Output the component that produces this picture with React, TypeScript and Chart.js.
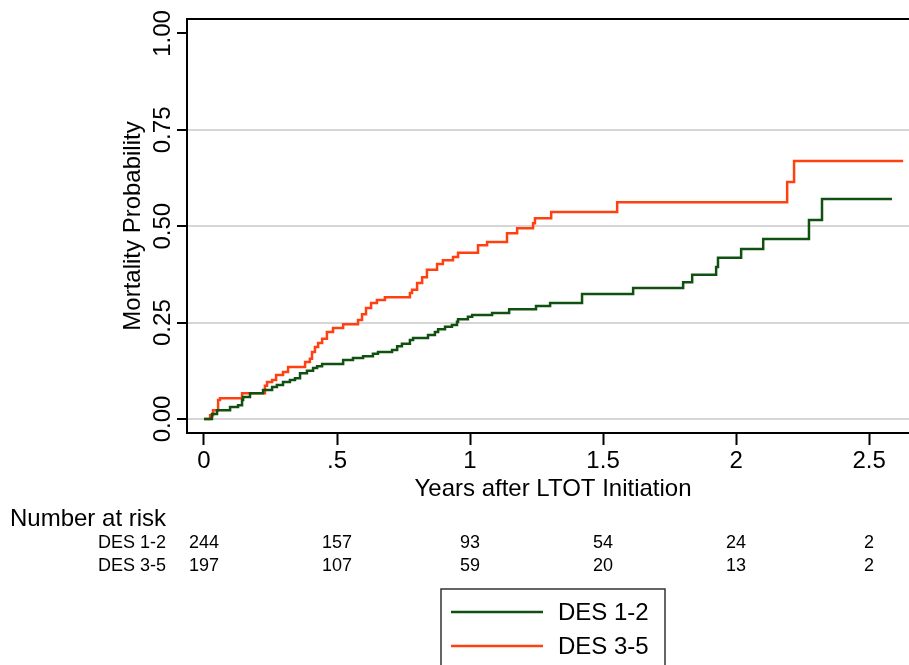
import { useEffect, useRef } from "react";
import { Chart, registerables } from "chart.js";
Chart.register(...registerables);

// Step curves: event time (years) and cumulative mortality after the event
const des12Times = [0, 0.030, 0.049, 0.098, 0.128, 0.143, 0.147, 0.173, 0.222, 0.256, 0.274, 0.297, 0.323, 0.342, 0.361, 0.387, 0.410, 0.425, 0.444, 0.523, 0.560, 0.598, 0.635, 0.654, 0.707, 0.726, 0.744, 0.774, 0.786, 0.842, 0.868, 0.880, 0.906, 0.932, 0.951, 0.955, 0.992, 1.008, 1.083, 1.147, 1.248, 1.301, 1.421, 1.613, 1.801, 1.835, 1.925, 1.932, 2.019, 2.102, 2.274, 2.323, 2.586];
const des12Values = [0, 0.013, 0.023, 0.031, 0.036, 0.049, 0.057, 0.067, 0.075, 0.083, 0.088, 0.096, 0.101, 0.106, 0.119, 0.125, 0.132, 0.137, 0.143, 0.153, 0.158, 0.163, 0.169, 0.174, 0.179, 0.189, 0.195, 0.205, 0.210, 0.218, 0.226, 0.233, 0.239, 0.244, 0.252, 0.259, 0.265, 0.270, 0.275, 0.285, 0.293, 0.301, 0.324, 0.340, 0.355, 0.374, 0.394, 0.418, 0.441, 0.467, 0.516, 0.571, 0.571];

const des35Times = [0, 0.023, 0.034, 0.053, 0.060, 0.143, 0.229, 0.237, 0.256, 0.271, 0.297, 0.316, 0.380, 0.398, 0.406, 0.417, 0.429, 0.444, 0.462, 0.485, 0.523, 0.579, 0.594, 0.609, 0.628, 0.650, 0.680, 0.774, 0.782, 0.801, 0.820, 0.838, 0.876, 0.898, 0.936, 0.955, 1.030, 1.064, 1.139, 1.177, 1.237, 1.244, 1.305, 1.553, 2.192, 2.218, 2.628];
const des35Values = [0, 0.010, 0.023, 0.049, 0.054, 0.067, 0.086, 0.096, 0.101, 0.114, 0.122, 0.135, 0.148, 0.156, 0.174, 0.187, 0.197, 0.208, 0.226, 0.236, 0.246, 0.257, 0.272, 0.288, 0.301, 0.309, 0.316, 0.327, 0.335, 0.353, 0.368, 0.387, 0.402, 0.412, 0.420, 0.431, 0.451, 0.459, 0.482, 0.495, 0.508, 0.521, 0.537, 0.562, 0.615, 0.669, 0.669];

const seriesNames = ["DES 1-2", "DES 3-5"];
const seriesColors = ["#105010", "#ff4010"];

const xTickValues = [0, 0.5, 1, 1.5, 2, 2.5];
const xTickLabels = ["0", ".5", "1", "1.5", "2", "2.5"];
const yTickValues = [0, 0.25, 0.5, 0.75, 1];
const yTickLabels = ["0.00", "0.25", "0.50", "0.75", "1.00"];

const riskTitle = "Number at risk";
const riskDes12 = [244, 157, 93, 54, 24, 2];
const riskDes35 = [197, 107, 59, 20, 13, 2];

const xTitle = "Years after LTOT Initiation";
const yTitle = "Mortality Probability";

const FONT = '"Liberation Sans", Arial, Helvetica, sans-serif';

const overlayPlugin = {
  id: "overlay",
  afterDraw(chart: any) {
    const { ctx, chartArea, scales } = chart;
    const xs = scales.x;
    const ys = scales.y;
    ctx.save();
    // top border of plot region
    ctx.strokeStyle = "#000";
    ctx.lineWidth = 2;
    ctx.beginPath();
    ctx.moveTo(chartArea.left - 1, chartArea.top);
    ctx.lineTo(chartArea.right, chartArea.top);
    ctx.stroke();

    ctx.fillStyle = "#000";
    // y tick labels rotated
    ctx.font = `24px ${FONT}`;
    ctx.textAlign = "center";
    ctx.textBaseline = "middle";
    yTickValues.forEach((v, i) => {
      const y = ys.getPixelForValue(v);
      ctx.save();
      ctx.translate(163, y);
      ctx.rotate(-Math.PI / 2);
      ctx.fillText(yTickLabels[i], 0, 0);
      ctx.restore();
    });
    // y title
    ctx.font = `24px ${FONT}`;
    ctx.save();
    ctx.translate(133, (chartArea.top + chartArea.bottom) / 2);
    ctx.rotate(-Math.PI / 2);
    ctx.fillText(yTitle, 0, 0);
    ctx.restore();
    // x title
    ctx.fillText(xTitle, 553, 489);

    // risk table
    ctx.textAlign = "left";
    ctx.font = `24px ${FONT}`;
    ctx.fillText(riskTitle, 10, 519);
    ctx.font = `18px ${FONT}`;
    ctx.textAlign = "right";
    ctx.fillText(seriesNames[0], 166, 543);
    ctx.fillText(seriesNames[1], 166, 566);
    ctx.textAlign = "center";
    xTickValues.forEach((v, i) => {
      const x = xs.getPixelForValue(v);
      ctx.fillText(String(riskDes12[i]), x, 543);
      ctx.fillText(String(riskDes35[i]), x, 566);
    });

    // legend
    ctx.strokeStyle = "#333";
    ctx.lineWidth = 1.5;
    ctx.strokeRect(441, 589, 224, 120);
    ctx.lineWidth = 2.5;
    const ly = [612, 646];
    seriesNames.forEach((name, i) => {
      ctx.strokeStyle = seriesColors[i];
      ctx.beginPath();
      ctx.moveTo(451, ly[i]);
      ctx.lineTo(543, ly[i]);
      ctx.stroke();
      ctx.fillStyle = "#000";
      ctx.textAlign = "left";
      ctx.font = `24px ${FONT}`;
      ctx.fillText(name, 558, ly[i] + 1);
    });
    ctx.restore();
  },
};

export default function App() {
  const ref = useRef<HTMLCanvasElement>(null);
  useEffect(() => {
    if (!ref.current) return;
    const chart = new Chart(ref.current, {
      type: "line",
      data: {
        datasets: [
          {
            label: seriesNames[0],
            data: des12Times.map((t, i) => ({ x: t, y: des12Values[i] })),
            borderColor: seriesColors[0],
            backgroundColor: seriesColors[0],
            borderWidth: 2.5,
            pointRadius: 0,
            stepped: true,
            fill: false,
          },
          {
            label: seriesNames[1],
            data: des35Times.map((t, i) => ({ x: t, y: des35Values[i] })),
            borderColor: seriesColors[1],
            backgroundColor: seriesColors[1],
            borderWidth: 2.5,
            pointRadius: 0,
            stepped: true,
            fill: false,
          },
        ],
      },
      options: {
        responsive: false,
        animation: false,
        layout: { padding: { top: 19, left: 0, right: 0, bottom: 0 } },
        plugins: { legend: { display: false }, tooltip: { enabled: false } },
        scales: {
          x: {
            type: "linear",
            min: -0.0639,
            max: 2.65,
            afterBuildTicks: (s: any) => {
              s.ticks = xTickValues.map((v) => ({ value: v }));
            },
            afterFit: (s: any) => {
              s.height = 232;
            },
            ticks: {
              color: "#000",
              font: { family: FONT, size: 24 },
              padding: 2,
              maxRotation: 0,
              autoSkip: false,
              callback: (v: any) => {
                const i = xTickValues.indexOf(Number(v));
                return i >= 0 ? xTickLabels[i] : "";
              },
            },
            grid: {
              drawOnChartArea: false,
              drawTicks: true,
              tickLength: 12,
              tickColor: "#000",
              tickWidth: 2,
            },
            border: { display: true, color: "#000", width: 2 },
          },
          y: {
            type: "linear",
            min: -0.0363,
            max: 1.0376,
            afterBuildTicks: (s: any) => {
              s.ticks = yTickValues.map((v) => ({ value: v }));
            },
            afterFit: (s: any) => {
              s.width = 187;
            },
            ticks: {
              color: "rgba(0,0,0,0)",
              font: { family: FONT, size: 12 },
              padding: 2,
            },
            grid: {
              color: (c: any) => (c.tick && c.tick.value === 1 ? "rgba(0,0,0,0)" : "#d6d6d6"),
              lineWidth: 2,
              drawTicks: true,
              tickLength: 10,
              tickColor: "#000",
              tickWidth: 2,
            },
            border: { display: true, color: "#000", width: 2 },
          },
        },
      },
      plugins: [overlayPlugin],
    });
    return () => chart.destroy();
  }, []);
  return (
    <div style={{ position: "absolute", left: 0, top: 0, width: 909, height: 665, overflow: "hidden", background: "#fff" }}>
      <canvas ref={ref} width={909} height={665} style={{ display: "block" }} />
    </div>
  );
}
